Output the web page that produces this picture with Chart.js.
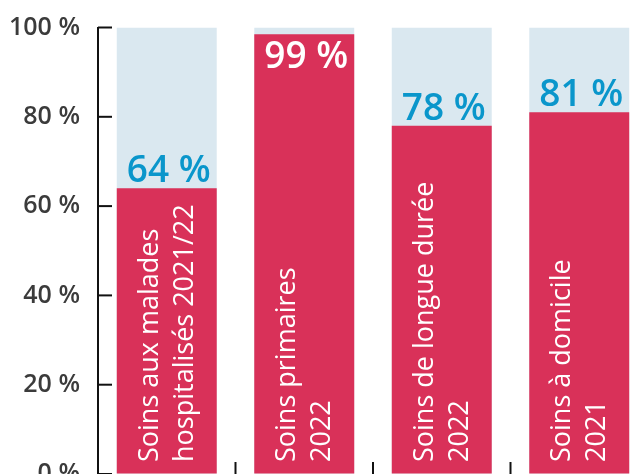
<!DOCTYPE html>
<html><head><meta charset="utf-8">
<script src="https://cdn.jsdelivr.net/npm/chart.js@4"></script>
<style>html,body{margin:0;padding:0;overflow:hidden;background:#fff;width:641px;height:474px}canvas{display:block}</style>
</head><body>
<canvas id="c" width="660" height="500"></canvas>
<script>
const categories = [["Soins aux malades","hospitalisés 2021/22"],["Soins primaires","2022"],["Soins de longue durée","2022"],["Soins à domicile","2021"]];
const values = [64, 98.5, 78, 81];
const fullScale = [100, 100, 100, 100];
const yTicks = [0, 20, 40, 60, 80, 100];

const RED = '#d93159', LIGHT = '#dae8f0', BLUE = '#0a96cb';

const decor = {
  id: 'decor',
  afterDatasetsDraw(chart) {
    const ctx = chart.ctx, ca = chart.chartArea, ys = chart.scales.y, xs = chart.scales.x;
    const meta = chart.getDatasetMeta(0);
    ctx.save();
    meta.data.forEach((bar, i) => {
      // rotated category labels
      ctx.save();
      ctx.font = '400 27px "Open Sans"';
      ctx.fillStyle = '#ffffff';
      ctx.textAlign = 'left';
      ctx.textBaseline = 'alphabetic';
      ctx.translate(bar.x, ca.bottom - 12);
      ctx.rotate(-Math.PI / 2);
      ctx.fillText(categories[i][0], 0, -9);
      ctx.fillText(categories[i][1], 0, 26);
      ctx.restore();
      // value labels
      const v = values[i];
      const txt = Math.round(v) + ' %';
      ctx.font = '600 37px "Open Sans"';
      ctx.textAlign = 'center';
      ctx.textBaseline = 'alphabetic';
      if (v > 90) {
        ctx.fillStyle = '#ffffff';
        ctx.fillText(txt, bar.x + 2, bar.y + 34);
      } else {
        ctx.fillStyle = BLUE;
        ctx.fillText(txt, bar.x + 2, bar.y - 6);
      }
    });
    // inward ticks
    ctx.strokeStyle = '#111';
    ctx.lineWidth = 2;
    yTicks.forEach(v => {
      const py = ys.getPixelForValue(v);
      ctx.beginPath(); ctx.moveTo(ca.left, py); ctx.lineTo(ca.left + 14, py); ctx.stroke();
    });
    for (let i = 1; i < categories.length; i++) {
      const px = (xs.getPixelForValue(i - 1) + xs.getPixelForValue(i)) / 2;
      ctx.beginPath(); ctx.moveTo(px, ca.bottom); ctx.lineTo(px, ca.bottom - 12); ctx.stroke();
    }
    ctx.restore();
  }
};

new Chart(document.getElementById('c'), {
  type: 'bar',
  data: {
    labels: categories,
    datasets: [
      { data: values, backgroundColor: RED, order: 0, grouped: false, barPercentage: 0.727, categoryPercentage: 1 },
      { data: fullScale, backgroundColor: LIGHT, order: 1, grouped: false, barPercentage: 0.727, categoryPercentage: 1 }
    ]
  },
  options: {
    responsive: false,
    animation: false,
    events: [],
    layout: { padding: { top: 27.5, right: 12, bottom: 26, left: 0 } },
    plugins: { legend: { display: false }, tooltip: { enabled: false } },
    scales: {
      x: {
        offset: true,
        ticks: { display: false },
        grid: { display: false },
        border: { display: true, color: '#b4b4b4', width: 1 },
        afterFit(s) { s.height = 0; }
      },
      y: {
        min: 0, max: 100,
        afterBuildTicks(s) { s.ticks = yTicks.map(v => ({ value: v })); },
        ticks: {
          callback: v => v + ' %',
          font: { family: 'Open Sans', size: 25, weight: '600' },
          color: '#3b3b3b',
          padding: 18
        },
        grid: { display: true, drawOnChartArea: false, drawTicks: false, tickLength: 0 },
        border: { display: true, color: '#111', width: 2 },
        afterFit(s) { s.width = 98; s.paddingTop = 0; s.paddingBottom = 0; }
      }
    }
  },
  plugins: [decor]
});
</script>
</body></html>
